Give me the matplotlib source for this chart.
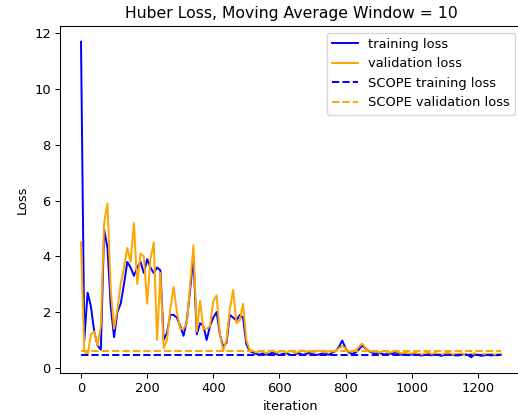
import numpy as np
import matplotlib
matplotlib.use("Agg")
import matplotlib.pyplot as plt

iterations = np.arange(0, 1280, 10)

training_loss = [
    11.7, 1.0, 2.7, 2.2, 1.3, 0.8, 0.65, 4.97, 4.3, 2.2,
    1.1, 2.0, 2.3, 3.0, 3.8, 3.6, 3.3, 3.6, 3.8, 3.4,
    3.9, 3.6, 3.4, 3.6, 3.5, 1.0, 1.25, 1.9, 1.9, 1.8,
    1.5, 1.15, 1.7, 2.8, 4.0, 1.2, 1.6, 1.5, 1.0, 1.5,
    1.8, 2.0, 1.2, 0.75, 0.9, 1.9, 1.8, 1.7, 1.9, 1.8,
    0.85, 0.6,
    0.55, 0.5, 0.48, 0.52, 0.47, 0.5, 0.55, 0.49, 0.46, 0.5,
    0.53, 0.48, 0.45, 0.5, 0.52, 0.47, 0.49, 0.54, 0.5, 0.46,
    0.48, 0.52, 0.5, 0.47, 0.55, 0.6, 0.75,
    0.98, 0.7, 0.55, 0.5, 0.55, 0.65, 0.8, 0.7, 0.6, 0.55,
    0.5, 0.55, 0.5, 0.48, 0.52, 0.5, 0.55, 0.5, 0.47, 0.5, 0.45,
    0.48, 0.5, 0.46, 0.44, 0.47, 0.5, 0.45, 0.48, 0.46, 0.43,
    0.47, 0.5, 0.48, 0.45, 0.44, 0.47, 0.49, 0.46, 0.38, 0.48,
    0.46, 0.43, 0.45, 0.47, 0.44, 0.46, 0.45, 0.47,
]

validation_loss = [
    4.5, 0.6, 0.45, 1.2, 1.3, 0.8, 1.5, 5.2, 5.9, 2.8,
    1.4, 2.1, 3.0, 3.6, 4.3, 3.8, 5.2, 3.0, 4.1, 4.0,
    2.3, 3.9, 4.5, 1.0, 3.4, 0.7, 1.0, 2.1, 2.9, 2.0,
    1.4, 1.4, 1.6, 3.0, 4.4, 1.3, 2.4, 1.4, 1.4, 1.5,
    2.4, 2.6, 1.2, 0.6, 1.0, 2.1, 2.8, 1.6, 1.7, 2.3,
    1.0, 0.65,
    0.6, 0.55, 0.6, 0.58, 0.52, 0.6, 0.62, 0.55, 0.58, 0.6,
    0.54, 0.6, 0.58, 0.53, 0.6, 0.62, 0.56, 0.6, 0.55, 0.58,
    0.62, 0.57, 0.55, 0.6, 0.58, 0.62, 0.7,
    0.78, 0.7, 0.58, 0.6, 0.62, 0.75, 0.87, 0.72, 0.62, 0.58,
    0.6, 0.55, 0.58, 0.6, 0.54, 0.57, 0.6, 0.55, 0.52, 0.55, 0.5,
    0.52, 0.55, 0.5, 0.48, 0.52, 0.55, 0.5, 0.53, 0.5, 0.48,
    0.52, 0.54, 0.5, 0.48, 0.5, 0.52, 0.49, 0.47, 0.5, 0.52,
    0.48, 0.47, 0.5, 0.48, 0.5, 0.48, 0.49, 0.5,
]

scope_training = 0.45
scope_validation = 0.62

DPI = 94
fig = plt.figure(figsize=(518 / DPI, 415 / DPI), dpi=DPI)
ax = fig.add_axes([60 / 518, 42 / 415, (522 - 60) / 518, (373 - 26) / 415])

ax.plot(iterations, training_loss, color="blue", label="training loss")
ax.plot(iterations, validation_loss, color="orange", label="validation loss")
ax.plot(iterations, [scope_training] * len(iterations), color="blue",
        linestyle="--", label="SCOPE training loss")
ax.plot(iterations, [scope_validation] * len(iterations), color="orange",
        linestyle="--", label="SCOPE validation loss")

ax.set_title("Huber Loss, Moving Average Window = 10")
ax.set_xlabel("iteration")
ax.set_ylabel("Loss")
ax.set_xticks([0, 200, 400, 600, 800, 1000, 1200])
ax.set_yticks([0, 2, 4, 6, 8, 10, 12])
ax.legend(loc="upper right")

fig.savefig("out.png", dpi=DPI)
